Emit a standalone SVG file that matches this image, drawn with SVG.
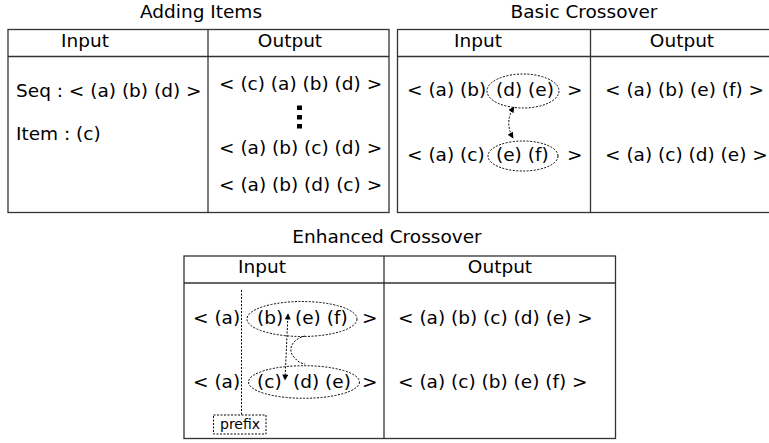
<svg xmlns="http://www.w3.org/2000/svg" width="769" height="443" viewBox="0 0 769 443">
<style>
text{font-family:"DejaVu Sans",sans-serif;font-size:18.5px;fill:#000}
.c{text-anchor:middle}
.tb{fill:#fff;stroke:#333;stroke-width:1.3}
.ln{stroke:#333;stroke-width:1.3;fill:none}
.dot{fill:none;stroke:#000;stroke-width:1;stroke-dasharray:2,1.5}
.sm{font-size:14px}
</style>
<defs>
<marker id="ah" viewBox="0 0 10 10" refX="9" refY="5" markerWidth="7" markerHeight="6" orient="auto-start-reverse" markerUnits="userSpaceOnUse">
<path d="M0,0 L10,5 L0,10 Z" fill="#000"/>
</marker>
</defs>

<g id="adding-items">
<text class="c" x="201" y="18">Adding Items</text>
<rect class="tb" x="8" y="29.5" width="381" height="183"/>
<line class="ln" x1="8" y1="56.5" x2="389" y2="56.5"/>
<line class="ln" x1="208" y1="29.5" x2="208" y2="212.5"/>
<text class="c" x="85" y="47">Input</text>
<text class="c" x="290" y="47">Output</text>
<text x="16" y="97">Seq : &lt; (a) (b) (d) &gt;</text>
<text x="16" y="140">Item : (c)</text>
<text x="219" y="90">&lt; (c) (a) (b) (d) &gt;</text>
<rect x="297" y="105.5" width="5" height="4.5" fill="#000"/>
<rect x="297" y="115" width="5" height="4.5" fill="#000"/>
<rect x="297" y="124" width="5" height="4.5" fill="#000"/>
<text x="219" y="154">&lt; (a) (b) (c) (d) &gt;</text>
<text x="219" y="191">&lt; (a) (b) (d) (c) &gt;</text>
</g>

<g id="basic-crossover">
<text class="c" x="584" y="18">Basic Crossover</text>
<rect class="tb" x="397.5" y="29.5" width="375" height="183"/>
<line class="ln" x1="397.5" y1="56.5" x2="772" y2="56.5"/>
<line class="ln" x1="590.5" y1="29.5" x2="590.5" y2="212.5"/>
<text class="c" x="478" y="47">Input</text>
<text class="c" x="682" y="47">Output</text>
<text x="407" y="96">&lt; (a) (b)</text>
<text x="496" y="96">(d) (e)</text>
<text x="567" y="96">&gt;</text>
<text x="407" y="161">&lt; (a) (c)</text>
<text x="496" y="161">(e) (f)</text>
<text x="567" y="161">&gt;</text>
<ellipse class="dot" cx="523" cy="91" rx="36" ry="17"/>
<ellipse class="dot" cx="523" cy="156" rx="35" ry="15"/>
<text x="605" y="96">&lt; (a) (b) (e) (f) &gt;</text>
<text x="605" y="161">&lt; (a) (c) (d) (e) &gt;</text>
</g>

<g id="enhanced-crossover">
<text class="c" x="387" y="243">Enhanced Crossover</text>
<rect class="tb" x="184" y="256" width="431.5" height="182.5"/>
<line class="ln" x1="184" y1="283" x2="615.5" y2="283"/>
<line class="ln" x1="384" y1="256" x2="384" y2="438.5"/>
<text class="c" x="262" y="273">Input</text>
<text class="c" x="500" y="273">Output</text>
<text x="193" y="324">&lt; (a)</text>
<text x="257" y="324">(b)</text>
<text x="295" y="324">(e) (f)</text>
<text x="362" y="324">&gt;</text>
<text x="193" y="388">&lt; (a)</text>
<text x="257" y="388">(c)</text>
<text x="293" y="388">(d) (e)</text>
<text x="362" y="388">&gt;</text>
<ellipse class="dot" cx="302" cy="319" rx="55" ry="17.5"/>
<ellipse class="dot" cx="304" cy="382" rx="55.5" ry="16.3"/>
<line class="dot" x1="241.5" y1="290" x2="241.5" y2="415"/>
<text x="398" y="324">&lt; (a) (b) (c) (d) (e) &gt;</text>
<text x="398" y="388">&lt; (a) (c) (b) (e) (f) &gt;</text>
</g>

<g id="prefix">
<rect class="dot" x="213.5" y="415" width="52.5" height="19"/>
<text class="sm" x="220" y="429">prefix</text>
</g>

<g id="connectors">
<path class="dot" d="M514,107 Q504,122 513,138" marker-start="url(#ah)" marker-end="url(#ah)"/>
<path class="dot" d="M288,314 L285,380" marker-start="url(#ah)" marker-end="url(#ah)"/>
<path class="dot" d="M305,336 C292,339 287,350 294,357 C298,362 300,363 305,364"/>
</g>
</svg>
